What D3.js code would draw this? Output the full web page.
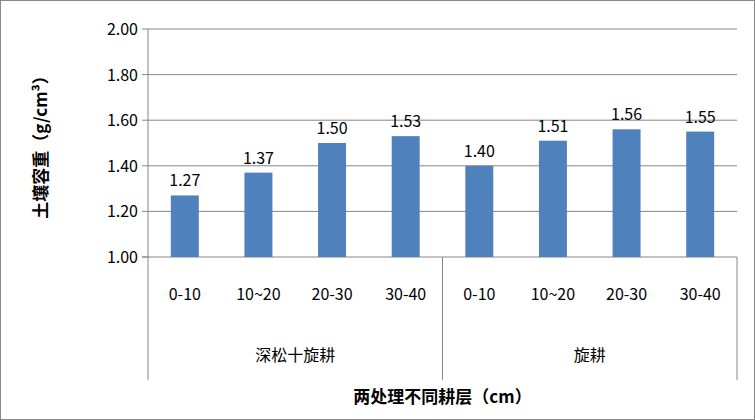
<!DOCTYPE html><html><head><meta charset="utf-8">
<script src="https://cdn.jsdelivr.net/npm/d3@7"></script>
<style>body{margin:0;background:#fff}</style></head><body><svg id="c" width="755" height="420"></svg>
<script>
const categories=["0-10","10~20","20-30","30-40","0-10","10~20","20-30","30-40"];
const groups=["深松十旋耕","旋耕"];
const values=[1.27,1.37,1.50,1.53,1.40,1.51,1.56,1.55];
const yTicks=[1.00,1.20,1.40,1.60,1.80,2.00];
const svg=d3.select("#c");
const f="'Noto Sans CJK SC','Liberation Sans',sans-serif";
svg.append("rect").attr("x",0.5).attr("y",0.5).attr("width",754).attr("height",419).attr("fill","#fff").attr("stroke","#888");
const L=148,R=737,T=29,B=257;
const x=d3.scaleBand().domain(d3.range(8)).range([L,R]).paddingInner(0.62).paddingOuter(0.31);
const y=d3.scaleLinear().domain([1,2]).range([B,T]);
svg.selectAll(".g").data(yTicks).join("line").attr("x1",L).attr("x2",R).attr("y1",d=>y(d)).attr("y2",d=>y(d)).attr("stroke","#868686");
svg.selectAll(".yt").data(yTicks).join("text").attr("x",L-10).attr("y",d=>y(d)+6).attr("text-anchor","end").attr("font-family",f).attr("font-size",16).attr("fill","#000").text(d=>d.toFixed(2));
svg.selectAll(".b").data(values).join("rect").attr("x",(d,i)=>x(i)).attr("width",x.bandwidth()).attr("y",d=>y(d)).attr("height",d=>B-y(d)).attr("fill","#4F81BD");
svg.selectAll(".v").data(values).join("text").attr("x",(d,i)=>x(i)+x.bandwidth()/2).attr("y",d=>y(d)-9).attr("text-anchor","middle").attr("font-family",f).attr("font-size",16).text(d=>d.toFixed(2));
svg.selectAll(".c").data(categories).join("text").attr("x",(d,i)=>x(i)+x.bandwidth()/2).attr("y",300).attr("text-anchor","middle").attr("font-family",f).attr("font-size",16).text(d=>d);
const mid=(L+R)/2;
[[L,T,L,380],[mid,B,mid,380],[R,B,R,380],[L-6,B,L,B]].forEach(a=>svg.append("line").attr("x1",a[0]).attr("y1",a[1]).attr("x2",a[2]).attr("y2",a[3]).attr("stroke","#868686"));
yTicks.forEach(t=>svg.append("line").attr("x1",L-6).attr("x2",L).attr("y1",y(t)).attr("y2",y(t)).attr("stroke","#868686"));
groups.forEach((g,i)=>svg.append("text").attr("x",L+(R-L)/4*(2*i+1)).attr("y",361).attr("text-anchor","middle").attr("font-family",f).attr("font-size",16).text(g));
svg.append("text").attr("x",L+(R-L)/2).attr("y",403).attr("text-anchor","middle").attr("font-family",f).attr("font-size",17).attr("font-weight","bold").text("两处理不同耕层（cm）");
svg.append("text").attr("transform","translate(47,143) rotate(-90)").attr("text-anchor","middle").attr("font-family",f).attr("font-size",17).attr("font-weight","bold").text("土壤容重（g/cm³）");
</script></body></html>
